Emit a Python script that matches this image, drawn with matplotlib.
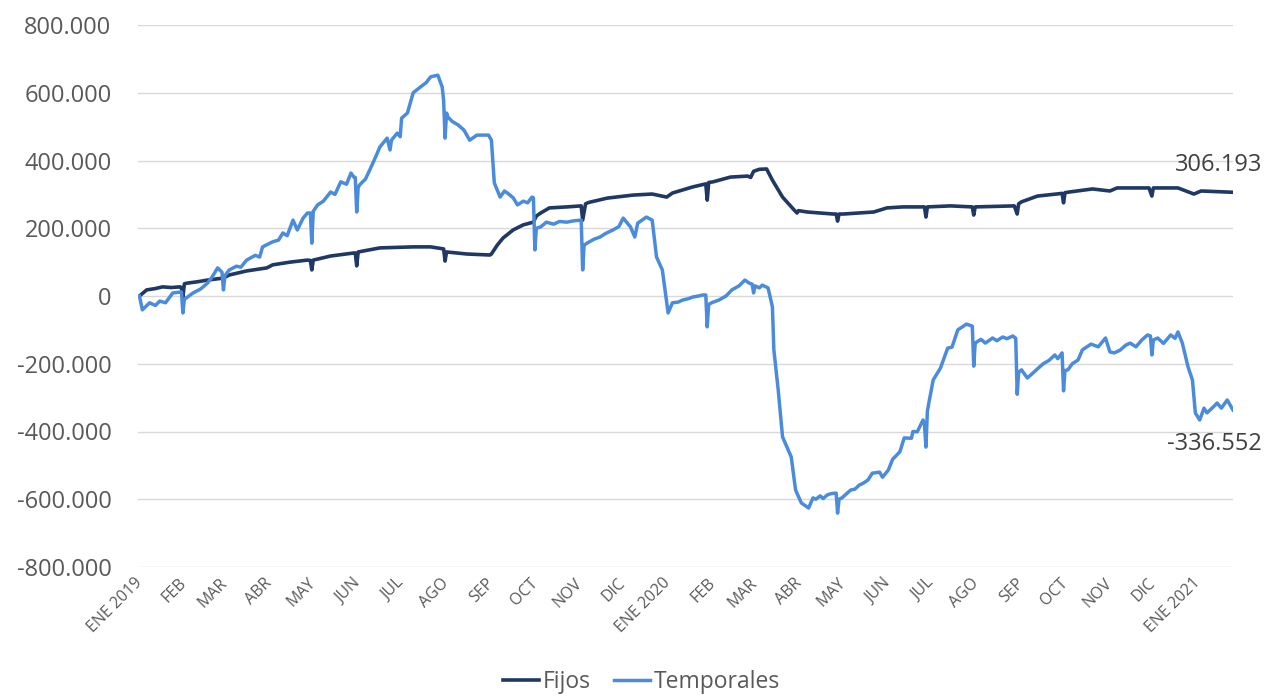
import matplotlib
matplotlib.use("Agg")
import matplotlib.pyplot as plt
from matplotlib.ticker import FuncFormatter
import pandas as pd

# ---------------- data ----------------
fijos_dates = [
    "2019-01-01", "2019-01-06", "2019-01-12", "2019-01-17", "2019-01-23", "2019-01-29", "2019-01-30",
    "2019-01-31", "2019-02-01", "2019-02-03", "2019-02-10", "2019-02-17", "2019-02-28", "2019-03-04",
    "2019-03-16", "2019-03-30", "2019-04-03",
    "2019-04-15", "2019-04-27", "2019-04-29", "2019-04-30", "2019-05-01", "2019-05-13", "2019-05-29",
    "2019-05-30", "2019-05-31", "2019-06-01", "2019-06-16", "2019-07-09", "2019-07-21", "2019-07-30",
    "2019-07-31", "2019-08-01", "2019-08-15", "2019-08-31", "2019-09-01", "2019-09-05", "2019-09-09",
    "2019-09-16", "2019-09-23", "2019-09-30", "2019-10-02", "2019-10-05", "2019-10-11", "2019-10-23",
    "2019-11-02", "2019-11-03", "2019-11-05", "2019-11-07", "2019-11-20", "2019-12-08", "2019-12-21",
    "2019-12-31", "2020-01-04", "2020-01-18", "2020-01-27", "2020-01-28", "2020-01-29", "2020-02-01",
    "2020-02-13", "2020-02-25", "2020-02-27", "2020-02-29", "2020-03-04", "2020-03-09", "2020-03-13",
    "2020-03-20", "2020-03-28", "2020-03-30", "2020-03-31", "2020-04-06", "2020-04-24", "2020-04-26",
    "2020-04-27", "2020-04-28", "2020-05-01", "2020-05-22", "2020-05-31", "2020-06-11", "2020-06-26",
    "2020-06-27", "2020-06-28", "2020-07-14", "2020-07-29", "2020-07-30", "2020-07-31", "2020-08-27",
    "2020-08-29", "2020-08-30", "2020-09-01", "2020-09-12", "2020-09-25", "2020-09-29", "2020-09-30",
    "2020-10-01", "2020-10-04", "2020-10-20", "2020-11-01", "2020-11-06", "2020-11-28", "2020-11-30",
    "2020-12-01", "2020-12-18", "2020-12-29", "2021-01-03", "2021-01-25",
]
fijos_values = [
    0, 18000, 22000, 27000, 25000, 27000, 25000,
    -3000, 36000, 38000, 42000, 47000, 53000, 62000,
    74000, 83000, 92000,
    100000, 106000, 105000, 77000, 106000, 118000, 127000,
    127000, 89000, 130000, 142000, 145000, 145000, 139000,
    103000, 130000, 124000, 121000, 124000, 150000, 171000,
    195000, 210000, 218000, 236000, 245000, 260000, 263000,
    266000, 224000, 272000, 276000, 289000, 298000, 301000,
    292000, 304000, 322000, 331000, 283000, 335000, 337000,
    351000, 354000, 350000, 368000, 374000, 375000, 342000,
    292000, 254000, 245000, 252000, 248000, 242000, 242000,
    221000, 242000, 242000, 248000, 260000, 263000, 263000,
    233000, 263000, 266000, 263000, 239000, 263000, 266000,
    242000, 272000, 278000, 295000, 301000, 303000, 275000,
    305000, 307000, 316000, 310000, 319000, 319000, 295000,
    319000, 319000, 301000, 310000, 306193,
]

temp_dates = [
    "2019-01-01", "2019-01-03", "2019-01-08", "2019-01-12", "2019-01-15", "2019-01-19", "2019-01-24",
    "2019-01-30", "2019-01-31", "2019-02-01", "2019-02-07", "2019-02-12", "2019-02-17", "2019-02-20",
    "2019-02-24", "2019-02-27", "2019-02-28", "2019-03-01", "2019-03-04", "2019-03-09", "2019-03-12",
    "2019-03-16", "2019-03-22", "2019-03-25", "2019-03-27", "2019-04-03", "2019-04-07", "2019-04-10",
    "2019-04-13", "2019-04-17", "2019-04-20", "2019-04-24", "2019-04-27", "2019-04-29", "2019-04-30",
    "2019-05-01", "2019-05-04", "2019-05-08", "2019-05-13", "2019-05-16", "2019-05-20", "2019-05-24",
    "2019-05-27", "2019-05-29", "2019-05-30", "2019-05-31", "2019-06-01", "2019-06-02", "2019-06-06",
    "2019-06-09", "2019-06-13", "2019-06-16", "2019-06-21", "2019-06-23", "2019-06-24", "2019-06-28",
    "2019-06-30", "2019-07-01", "2019-07-05", "2019-07-09", "2019-07-14", "2019-07-18", "2019-07-21",
    "2019-07-26", "2019-07-29", "2019-07-30", "2019-07-31", "2019-08-01", "2019-08-02", "2019-08-05",
    "2019-08-09", "2019-08-13", "2019-08-17", "2019-08-22", "2019-08-30", "2019-09-01", "2019-09-03",
    "2019-09-07", "2019-09-10", "2019-09-12", "2019-09-16", "2019-09-19", "2019-09-23", "2019-09-26",
    "2019-09-29", "2019-09-30", "2019-10-01", "2019-10-02", "2019-10-05", "2019-10-09", "2019-10-14",
    "2019-10-18", "2019-10-23", "2019-10-28", "2019-11-02", "2019-11-03", "2019-11-04", "2019-11-06",
    "2019-11-11", "2019-11-15", "2019-11-19", "2019-11-24", "2019-11-28", "2019-12-01", "2019-12-06",
    "2019-12-09", "2019-12-11", "2019-12-17", "2019-12-21", "2019-12-24", "2019-12-28", "2020-01-01",
    "2020-01-04", "2020-01-08", "2020-01-11", "2020-01-15", "2020-01-18", "2020-01-22", "2020-01-25",
    "2020-01-27", "2020-01-28", "2020-01-29", "2020-01-31", "2020-02-05", "2020-02-10", "2020-02-14",
    "2020-02-19", "2020-02-23", "2020-02-26", "2020-02-28", "2020-02-29", "2020-03-01", "2020-03-04",
    "2020-03-06", "2020-03-10", "2020-03-13", "2020-03-14", "2020-03-17", "2020-03-20", "2020-03-26",
    "2020-03-29", "2020-04-02", "2020-04-07", "2020-04-10", "2020-04-12", "2020-04-15", "2020-04-17",
    "2020-04-20", "2020-04-22", "2020-04-25", "2020-04-26", "2020-04-27", "2020-04-28", "2020-04-30",
    "2020-05-06", "2020-05-09", "2020-05-12", "2020-05-15", "2020-05-18", "2020-05-21", "2020-05-26",
    "2020-05-28", "2020-06-01", "2020-06-04", "2020-06-09", "2020-06-12", "2020-06-17", "2020-06-18",
    "2020-06-21", "2020-06-25", "2020-06-26", "2020-06-27", "2020-06-28", "2020-06-29", "2020-07-02",
    "2020-07-07", "2020-07-12", "2020-07-15", "2020-07-19", "2020-07-25", "2020-07-29", "2020-07-30",
    "2020-07-31", "2020-08-01", "2020-08-04", "2020-08-07", "2020-08-12", "2020-08-15", "2020-08-19",
    "2020-08-22", "2020-08-26", "2020-08-28", "2020-08-29", "2020-08-30", "2020-09-01", "2020-09-05",
    "2020-09-09", "2020-09-12", "2020-09-16", "2020-09-20", "2020-09-24", "2020-09-26", "2020-09-29",
    "2020-09-30", "2020-10-01", "2020-10-03", "2020-10-06", "2020-10-10", "2020-10-13", "2020-10-19",
    "2020-10-24", "2020-10-29", "2020-11-01", "2020-11-04", "2020-11-08", "2020-11-12", "2020-11-15",
    "2020-11-19", "2020-11-23", "2020-11-27", "2020-11-29", "2020-11-30", "2020-12-01", "2020-12-04",
    "2020-12-08", "2020-12-13", "2020-12-16", "2020-12-18", "2020-12-21", "2020-12-25", "2020-12-28",
    "2020-12-30", "2021-01-02", "2021-01-05", "2021-01-07", "2021-01-09", "2021-01-12", "2021-01-14",
    "2021-01-17", "2021-01-21", "2021-01-25",
]
temp_values = [
    0, -41000, -20000, -28000, -15000, -20000, 9000,
    12000, -50000, -10000, 9000, 20000, 38000, 55000,
    83000, 70000, 18000, 60000, 77000, 88000, 85000,
    106000, 120000, 115000, 145000, 160000, 165000, 186000,
    178000, 224000, 195000, 230000, 245000, 245000, 156000,
    250000, 269000, 280000, 307000, 300000, 337000, 330000,
    363000, 351000, 350000, 248000, 320000, 328000, 345000,
    372000, 410000, 440000, 466000, 431000, 460000, 481000,
    470000, 525000, 540000, 600000, 617000, 630000, 647000,
    652000, 617000, 578000, 466000, 540000, 528000, 515000,
    505000, 490000, 460000, 475000, 475000, 460000, 334000,
    292000, 310000, 304000, 290000, 269000, 280000, 275000,
    292000, 290000, 136000, 200000, 204000, 218000, 212000,
    220000, 218000, 222000, 224000, 77000, 150000, 156000,
    168000, 174000, 185000, 195000, 205000, 230000, 204000,
    174000, 215000, 233000, 224000, 115000, 77000, -50000,
    -20000, -18000, -12000, -8000, -3000, 0, 3000,
    3000, -91000, -25000, -20000, -12000, 0, 18000,
    30000, 47000, 38000, 35000, 9000, 30000, 24000,
    32000, 24000, -32000, -159000, -277000, -416000, -475000,
    -573000, -611000, -626000, -596000, -600000, -590000, -598000,
    -587000, -584000, -582000, -582000, -641000, -600000, -596000,
    -573000, -570000, -558000, -552000, -543000, -523000, -520000,
    -535000, -514000, -482000, -460000, -419000, -420000, -400000,
    -401000, -366000, -380000, -446000, -340000, -316000, -248000,
    -213000, -154000, -151000, -100000, -83000, -89000, -207000,
    -140000, -136000, -128000, -139000, -124000, -132000, -121000,
    -126000, -118000, -125000, -290000, -225000, -218000, -242000,
    -227000, -215000, -200000, -190000, -174000, -185000, -168000,
    -280000, -220000, -218000, -200000, -189000, -159000, -142000,
    -150000, -124000, -165000, -168000, -160000, -145000, -139000,
    -150000, -130000, -115000, -118000, -174000, -130000, -124000,
    -140000, -115000, -125000, -106000, -139000, -210000, -248000,
    -345000, -366000, -331000, -345000, -337000, -325000, -316000,
    -331000, -307000, -336552,
]

series_names = ["Fijos", "Temporales"]
month_labels = ["ENE 2019", "FEB", "MAR", "ABR", "MAY", "JUN", "JUL", "AGO", "SEP", "OCT", "NOV", "DIC",
                "ENE 2020", "FEB", "MAR", "ABR", "MAY", "JUN", "JUL", "AGO", "SEP", "OCT", "NOV", "DIC",
                "ENE 2021"]
y_ticks = [-800000, -600000, -400000, -200000, 0, 200000, 400000, 600000, 800000]

# ---------------- style ----------------
plt.rcParams['font.family'] = ['Open Sans', 'DejaVu Sans']
c_fijos = "#1F3864"
c_temp = "#4A8CDB"
txt_col = "#595959"

fd = pd.to_datetime(fijos_dates)
td = pd.to_datetime(temp_dates)

fig = plt.figure(figsize=(12.7, 6.97), dpi=100)
ax = fig.add_axes([138 / 1270, 1 - 567 / 697, (1233 - 138) / 1270, (567 - 25) / 697])

ax.plot(fd, fijos_values, color=c_fijos, lw=2.6, label=series_names[0], solid_joinstyle="round")
ax.plot(td, temp_values, color=c_temp, lw=2.5, label=series_names[1], solid_joinstyle="round")

ax.set_ylim(y_ticks[0], y_ticks[-1])
ax.set_yticks(y_ticks)
ax.yaxis.set_major_formatter(FuncFormatter(lambda v, p: f"{v:,.0f}".replace(",", ".")))
ax.set_xlim(fd[0] - pd.Timedelta(days=1), fd[-1])

tick_dates = pd.date_range("2019-01-01", periods=len(month_labels), freq="MS")
ax.set_xticks(tick_dates)
ax.set_xticklabels(month_labels, rotation=45, ha="right", va="center", rotation_mode="anchor",
                   fontsize=11.5, color=txt_col)

ax.grid(axis="y", color="#D9D9D9", lw=1.0)
ax.set_axisbelow(True)
for s in ax.spines.values():
    s.set_visible(False)
ax.tick_params(axis="both", length=0)
ax.tick_params(axis="x", pad=10)
ax.tick_params(axis="y", pad=19, labelsize=17, labelcolor=txt_col)

# end labels
ax.annotate(f"{fijos_values[-1]:,.0f}".replace(",", "."), (fd[-1], fijos_values[-1]),
            xytext=(21, 11), textcoords="offset points", ha="right", va="bottom",
            fontsize=17, color="#404040")
ax.annotate(f"{temp_values[-1]:,.0f}".replace(",", "."), (td[-1], temp_values[-1]),
            xytext=(21, -16), textcoords="offset points", ha="right", va="top",
            fontsize=17, color="#404040")

fig.legend(loc="lower center", bbox_to_anchor=(0.505, -0.026), ncol=2, frameon=False,
           fontsize=16.5, handlelength=1.6, handletextpad=0.15, columnspacing=1.0,
           labelcolor=txt_col)

fig.savefig("out.png", dpi=100)
